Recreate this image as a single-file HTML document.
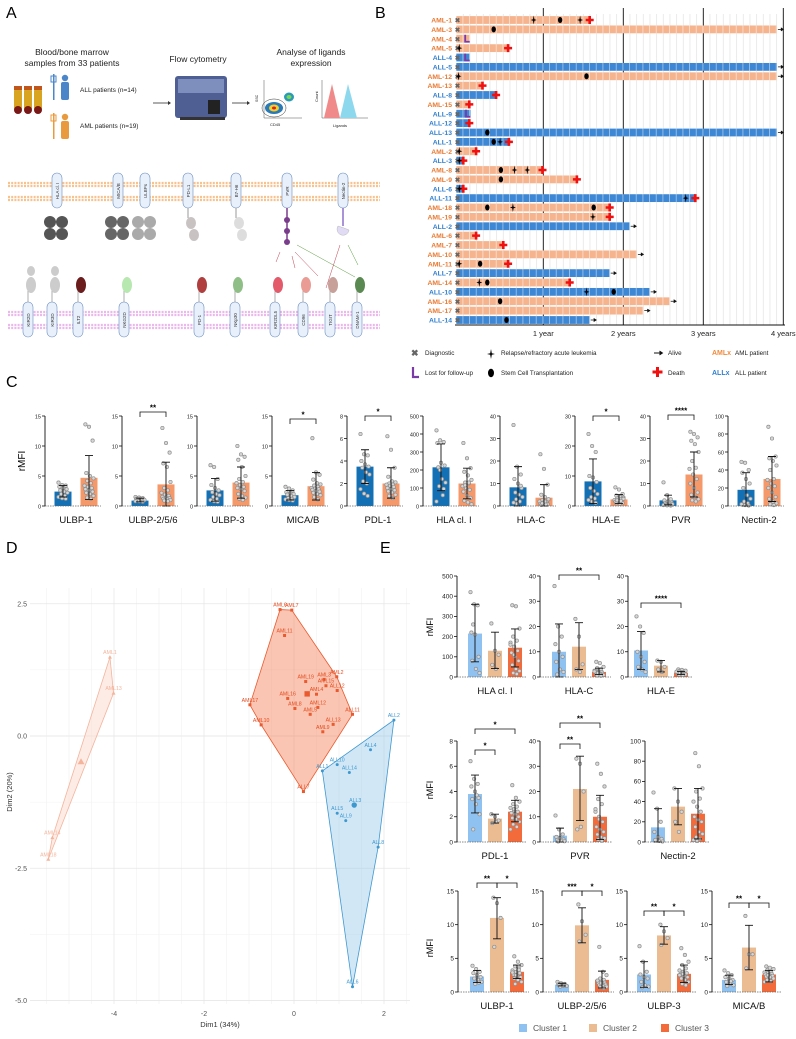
<!DOCTYPE html>
<html><head><meta charset="utf-8">
<style>
html,body{margin:0;padding:0;background:#fff;}
svg{display:block;font-family:"Liberation Sans",sans-serif;}
</style></head>
<body>
<svg id="fig" width="796" height="1039" viewBox="0 0 796 1039" xmlns="http://www.w3.org/2000/svg">
<defs>
<pattern id="patO" patternUnits="userSpaceOnUse" width="6.667" height="10" x="463.3"><rect width="6.667" height="10" fill="#f5b48e"/><rect x="5.9" width="0.8" height="10" fill="#fbe3d6"/></pattern>
<pattern id="patB" patternUnits="userSpaceOnUse" width="6.667" height="10" x="463.3"><rect width="6.667" height="10" fill="#3d87d4"/><rect x="5.9" width="0.8" height="10" fill="#a9cbed"/></pattern>
</defs>
<!-- Panel letters -->
<text x="6" y="18" font-size="16">A</text>
<text x="375" y="18" font-size="16">B</text>
<text x="6" y="387" font-size="16">C</text>
<text x="6" y="553" font-size="16">D</text>
<text x="380" y="553" font-size="16">E</text>

<!-- Panel A -->
<g id="panelA" font-size="8.5" fill="#222">
  <text x="72" y="55" text-anchor="middle">Blood/bone marrow</text>
  <text x="72" y="66" text-anchor="middle">samples from 33 patients</text>
  <text x="198" y="62" text-anchor="middle">Flow cytometry</text>
  <text x="311" y="55" text-anchor="middle">Analyse of ligands</text>
  <text x="311" y="66" text-anchor="middle">expression</text>
  <g>
    <rect x="14" y="88" width="8" height="23" rx="3" fill="#d9a520"/><rect x="14" y="86" width="8" height="4" fill="#c0561b"/><circle cx="18" cy="110" r="4" fill="#7a1818"/>
    <rect x="24" y="88" width="8" height="23" rx="3" fill="#d9a520"/><rect x="24" y="86" width="8" height="4" fill="#c0561b"/><circle cx="28" cy="110" r="4" fill="#7a1818"/>
    <rect x="34" y="88" width="8" height="23" rx="3" fill="#d9a520"/><rect x="34" y="86" width="8" height="4" fill="#c0561b"/><circle cx="38" cy="110" r="4" fill="#7a1818"/>
  </g>
  <g fill="#4a86c8">
    <rect x="53" y="74" width="1.5" height="26"/><rect x="51" y="76" width="5" height="6" fill="none" stroke="#4a86c8"/><circle cx="65" cy="78" r="3.2"/><rect x="61" y="82" width="8" height="18" rx="2"/>
  </g>
  <text x="80" y="92" font-size="6.5">ALL patients (n=14)</text>
  <g fill="#e89a3c">
    <rect x="53" y="113" width="1.5" height="26"/><rect x="51" y="115" width="5" height="6" fill="none" stroke="#e89a3c"/><circle cx="65" cy="117" r="3.2"/><rect x="61" y="121" width="8" height="18" rx="2"/>
  </g>
  <text x="80" y="128" font-size="6.5">AML patients (n=19)</text>
  <line x1="153" y1="103" x2="168" y2="103" stroke="#333" stroke-width="0.8"/><path d="M168,101 L171,103 L168,105Z" fill="#333"/>
  <g>
    <rect x="175" y="76" width="52" height="42" rx="3" fill="#4f5f93"/><rect x="178" y="79" width="46" height="14" fill="#7f8fbd"/><rect x="208" y="100" width="12" height="14" fill="#222"/><rect x="180" y="117" width="45" height="3" fill="#333"/>
  </g>
  <line x1="232" y1="103" x2="247" y2="103" stroke="#333" stroke-width="0.8"/><path d="M247,101 L250,103 L247,105Z" fill="#333"/>
  <g>
    <path d="M264,80 V118 H302" fill="none" stroke="#555" stroke-width="0.5"/>
    <ellipse cx="274" cy="108" rx="9" ry="6" fill="#2a7ab8"/><ellipse cx="274" cy="108" rx="5" ry="3.5" fill="#f2d02a"/><ellipse cx="274" cy="108" rx="2" ry="1.5" fill="#e02020"/>
    <ellipse cx="289" cy="97" rx="5" ry="4.5" fill="#2a9ab8"/><ellipse cx="289" cy="97" rx="2.5" ry="2" fill="#7cd84a"/>
    <ellipse cx="274" cy="108" rx="12" ry="9" fill="none" stroke="#333" stroke-width="0.5"/>
    <text x="258" y="102" font-size="3.5" transform="rotate(-90 258 102)">SSC</text><text x="270" y="126" font-size="4">CD45</text>
  </g>
  <g>
    <path d="M322,80 V118 H368" fill="none" stroke="#555" stroke-width="0.5"/>
    <path d="M324,118 L332,84 L340,118Z" fill="#f08a8a"/><path d="M340,118 L348,84 L357,118Z" fill="#8ed8ee"/>
    <text x="318" y="102" font-size="4" transform="rotate(-90 318 102)">Count</text><text x="333" y="127" font-size="4">Ligands</text>
  </g>
  <g id="membranes"></g>
</g>

<!-- Panel B -->
<g id="panelB"></g>
<!-- Panel C -->
<g id="panelC"></g>
<!-- Panel D -->
<g id="panelD"></g>
<!-- Panel E -->
<g id="panelE"></g>
</svg>
<script>
const NS="http://www.w3.org/2000/svg";
function mk(tag,attrs,parent,txt){const e=document.createElementNS(NS,tag);for(const k in attrs)e.setAttribute(k,attrs[k]);if(txt!==undefined)e.textContent=txt;parent.appendChild(e);return e;}

/* ===== Panel A membranes (schematic) ===== */
const mem=document.getElementById('membranes');
[183,186,197,200].forEach(y=>{mk('line',{x1:8,y1:y,x2:380,y2:y,stroke:'#f7c28e','stroke-width':2.2,'stroke-dasharray':'2 1.2'},mem);});
[312,315,325,328].forEach(y=>{mk('line',{x1:8,y1:y,x2:380,y2:y,stroke:'#eab8ea','stroke-width':2.2,'stroke-dasharray':'2 1.2'},mem);});
const topLig=['HLA cl. I','MICA/B','ULBPs','PD-L1','B7-H6','PVR','Nectin-2'];
const topX=[57,118,145,188,236,287,343];
topLig.forEach((t,i)=>{const g=mk('g',{},mem);


mk('rect',{x:topX[i]-5,y:173,width:10,height:35,rx:5,fill:'#e8f0fb',stroke:'#6d8fc0','stroke-width':0.6},g);
mk('text',{x:topX[i]+2,y:191,'font-size':4.5,'text-anchor':'middle',transform:`rotate(-90 ${topX[i]+2} 191)`,fill:'#333'},g,t);});
// ligand domains
[[57,'#555'],[118,'#666'],[145,'#aaa']].forEach(([x,c])=>{mk('circle',{cx:x-7,cy:222,r:6,fill:c},mem);mk('circle',{cx:x+5,cy:222,r:6,fill:c},mem);mk('circle',{cx:x-7,cy:234,r:6,fill:c},mem);mk('circle',{cx:x+5,cy:234,r:6,fill:c},mem);});
[[188,'#c9c2c2'],[236,'#ddd']].forEach(([x,c])=>{mk('line',{x1:x,y1:208,x2:x,y2:218,stroke:'#999'},mem);mk('ellipse',{cx:x+3,cy:223,rx:5,ry:6,fill:c},mem);mk('ellipse',{cx:x+6,cy:235,rx:5,ry:6,fill:c},mem);});
mk('line',{x1:287,y1:208,x2:287,y2:242,stroke:'#7a3d8c','stroke-width':1.5},mem);
[220,231,242].forEach(y=>mk('circle',{cx:287,cy:y,r:3,fill:'#7a3d8c'},mem));
mk('line',{x1:343,y1:208,x2:343,y2:226,stroke:'#8a70c8','stroke-width':1.5},mem);
mk('path',{d:'M338,226 a6,6 0 1 0 11,4 l-5,-2 z',fill:'#e2dbf5',stroke:'#aaa','stroke-width':0.4},mem);
const botR=['KIR2D','KIR3D','ILT2','NKG2D','PD-1','NKp30','KIR2DL5','CD96','TIGIT','DNAM-1'];
const botX=[28,52,78,124,199,235,275,303,330,357];
const botC=['#ccc','#ccc','#6b1c1c','#b7e8b0','#b13e3e','#8fbf86','#e35a6a','#ea9c94','#c7a09a','#5a8a52'];
botR.forEach((t,i)=>{const g=mk('g',{},mem);


const x=botX[i];
mk('line',{x1:x,y1:285,x2:x,y2:302,stroke:'#999','stroke-width':0.8},g);
mk('ellipse',{cx:x+3,cy:285,rx:5,ry:8,fill:botC[i]},g);
if(i<2){mk('ellipse',{cx:x+3,cy:271,rx:4,ry:5,fill:botC[i]},g);}
mk('rect',{x:x-5,y:302,width:10,height:35,rx:5,fill:'#e8f0fb',stroke:'#6d8fc0','stroke-width':0.6},g);
mk('text',{x:x+2,y:320,'font-size':4.5,'text-anchor':'middle',transform:`rotate(-90 ${x+2} 320)`,fill:'#333'},g,t);});
[[280,252,276,262,'#c04050'],[292,256,295,268,'#c04050'],[295,252,318,276,'#c04050'],[297,245,355,277,'#5a9a40'],[340,245,326,288,'#c04050'],[348,245,358,265,'#5a9a40']].forEach(a=>mk('line',{x1:a[0],y1:a[1],x2:a[2],y2:a[3],stroke:a[4],'stroke-width':0.5},mem));

/* ===== Panel B swimmer plot ===== */
const patients=['AML-1','AML-3','AML-4','AML-5','ALL-4','ALL-5','AML-12','AML-13','ALL-8','AML-15','ALL-9','ALL-12','ALL-13','ALL-1','AML-2','ALL-3','AML-8','AML-9','ALL-6','ALL-11','AML-18','AML-19','ALL-2','AML-6','AML-7','AML-10','AML-11','ALL-7','AML-14','ALL-10','AML-16','AML-17','ALL-14'];
const followYears=[1.58,3.92,0.08,0.56,0.08,3.92,3.92,0.24,0.41,0.075,0.09,0.075,3.92,0.57,0.16,0.0,0.99,1.42,0.0,2.9,1.83,1.83,2.08,0.16,0.5,2.17,0.56,1.83,1.33,2.33,2.58,2.25,1.58];
const outcome=['death','alive','lost','death','lost','alive','alive','death','death','death','lost','death','alive','death','death','death','death','death','death','death','death','death','alive','death','death','alive','death','alive','death','alive','alive','alive','alive'];
const relapseYears=[[0.88,1.46],[],[],[-0.05],[],[],[-0.06],[],[],[],[],[],[],[0.46],[-0.05],[-0.05],[0.64,0.8],[],[-0.05],[2.78],[0.62],[1.62],[],[],[],[],[-0.05],[],[0.2],[1.54],[],[],[]];
const sctYears=[[1.21],[0.38],[],[],[],[],[1.54],[],[],[],[],[],[0.3],[0.38],[],[],[0.47],[0.47],[],[],[0.3,1.63],[],[],[],[],[],[0.21],[],[0.3],[1.88],[0.46],[],[0.54]];
const yearTicks=[1,2,3,4];
const yearTickLabels=['1 year','2 years','3 years','4 years'];
(function(){
const P=document.getElementById('panelB');
const bx=v=>463.3+80*v;
const by=i=>20+i*9.375;
for(let m=0;m<=48;m++){const l=mk('line',{x1:bx(m/12),y1:14,x2:bx(m/12),y2:325,stroke:'#e6e6e6','stroke-width':0.8},P);

}
yearTicks.forEach((t,i)=>{const l=mk('line',{x1:bx(t),y1:8,x2:bx(t),y2:325,stroke:'#111','stroke-width':0.9},P);


const tx=mk('text',{x:bx(t),y:336,'font-size':7.5,'text-anchor':'middle',fill:'#222'},P,yearTickLabels[i]);

});
const ax=mk('line',{x1:455,y1:325,x2:785,y2:325,stroke:'#111','stroke-width':0.9},P);


patients.forEach((p,i)=>{const isAML=p.startsWith('AML');const y=by(i);
const lab=mk('text',{x:452,y:y+2.6,'font-size':6.8,'font-weight':'bold','text-anchor':'end',fill:isAML?'#e97a32':'#2e7fd0'},P,p);


const w=Math.max(bx(followYears[i])-456,6);
const r=mk('rect',{x:456,y:y-3.9,width:w,height:7.8,fill:isAML?'url(#patO)':'url(#patB)'},P);


const d=mk('text',{x:457.5,y:y+2.5,'font-size':6.5,'text-anchor':'middle',fill:'#666','font-weight':'bold'},P,'✖');


const ex=bx(followYears[i]);
if(outcome[i]==='death'){const c=mk('path',{d:`M${ex-1.3},${y-4} h2.6 v2.7 h2.7 v2.6 h-2.7 v2.7 h-2.6 v-2.7 h-2.7 v-2.6 h2.7z`,fill:'#f01010'},P);

}
else if(outcome[i]==='alive'){const a=mk('path',{d:`M${ex+1},${y} h5 M${ex+4},${y-1.6} L${ex+6.5},${y} L${ex+4},${y+1.6}`,stroke:'#111','stroke-width':0.8,fill:'#111'},P);

}
else {const L=mk('path',{d:`M${ex-4.5},${y-4} v7 h4.5`,stroke:'#7a3aa8','stroke-width':1.8,fill:'none'},P);

}
sctYears[i].forEach(v=>{const e=mk('ellipse',{cx:bx(v),cy:y,rx:2.2,ry:3,fill:'#000'},P);

});
relapseYears[i].forEach(v=>{const x=bx(v);const s=mk('path',{d:`M${x},${y-4.5} L${x+0.7},${y-0.7} L${x+3},${y} L${x+0.7},${y+0.7} L${x},${y+4.5} L${x-0.7},${y+0.7} L${x-3},${y} L${x-0.7},${y-0.7}Z`,fill:'#000'},P);

});
});
// legend
const L=mk('g',{'font-size':6.3,fill:'#222'},P);


mk('text',{x:411,y:356,'font-size':9,fill:'#666','font-weight':'bold'},L,'✖');mk('text',{x:425,y:355},L,'Diagnostic');
mk('path',{d:'M491,349 L491.8,353.2 L495,354 L491.8,354.8 L491,359 L490.2,354.8 L487,354 L490.2,353.2Z',fill:'#000'},L);mk('text',{x:501,y:355},L,'Relapse/refractory acute leukemia');
mk('path',{d:'M654,353 h8 M659.5,351 L662.5,353 L659.5,355',stroke:'#111','stroke-width':0.9,fill:'#111'},L);mk('text',{x:668,y:355},L,'Alive');
mk('text',{x:712,y:355,fill:'#f08a3c','font-weight':'bold','font-size':7},L,'AMLx');mk('text',{x:735,y:355},L,'AML patient');
mk('path',{d:'M413,367 v10 h6',stroke:'#7a3aa8','stroke-width':2.2,fill:'none'},L);mk('text',{x:425,y:375},L,'Lost for follow-up');
mk('ellipse',{cx:491,cy:373,rx:3,ry:4.2,fill:'#000'},L);mk('text',{x:501,y:375},L,'Stem Cell Transplantation');
mk('path',{d:'M656,367 h3 v3.5 h3.5 v3 h-3.5 v3.5 h-3 v-3.5 h-3.5 v-3 h3.5z',fill:'#f01010'},L);mk('text',{x:668,y:375},L,'Death');
mk('text',{x:712,y:375,fill:'#2e7fd0','font-weight':'bold','font-size':7},L,'ALLx');mk('text',{x:735,y:375},L,'ALL patient');
})();

/* ===== Generic bar-chart panel ===== */
function jit(i){return ((i*37)%11-5)*0.9;}
function barChart(P,name,ax,yTop,y0,ymax,step,bars,xlabel,sigs,tickFs){
const g=mk('g',{},P);


const sy=v=>y0-(v/ymax)*(y0-yTop);
const right=bars[bars.length-1].cx+12;
bars.forEach((b,bi)=>{
const r=mk('rect',{x:b.cx-b.w/2,y:sy(b.mean),width:b.w,height:y0-sy(b.mean),fill:b.color},g);


b.pts.forEach((v,i)=>{const c=mk('circle',{cx:b.cx+jit(i+bi*3),cy:sy(v),r:1.7,fill:'#d6d6d6',stroke:'#8e8e8e','stroke-width':0.7},g);

});
const e=mk('path',{d:`M${b.cx},${sy(b.lo)} V${sy(b.hi)} M${b.cx-4},${sy(b.hi)} h8 M${b.cx-4},${sy(b.lo)} h8`,stroke:'#111','stroke-width':0.9,fill:'none'},g);

});
mk('line',{x1:ax,y1:y0,x2:right,y2:y0,stroke:'#666','stroke-width':0.8,'stroke-dasharray':'1.5 1'},g);
const yl=mk('line',{x1:ax,y1:yTop,x2:ax,y2:y0,stroke:'#111','stroke-width':0.9},g);


for(let v=0;v<=ymax+1e-9;v+=step){mk('line',{x1:ax-3,y1:sy(v),x2:ax,y2:sy(v),stroke:'#111','stroke-width':0.8},g);
const t=mk('text',{x:ax-4,y:sy(v)+2.3,'font-size':tickFs,'text-anchor':'end',fill:'#222'},g,String(v));

}
const xl=mk('text',{x:(bars[0].cx+bars[bars.length-1].cx)/2,y:y0+17,'font-size':9.5,'text-anchor':'middle',fill:'#111'},g,xlabel);


sigs.forEach(s=>{const a=bars[s.a].cx,b=bars[s.b].cx;
const br=mk('path',{d:`M${a},${s.y+5} V${s.y} H${b} V${s.y+5}`,stroke:'#111','stroke-width':0.8,fill:'none'},g);


const st=mk('text',{x:(a+b)/2,y:s.y-1.5,'font-size':8,'font-weight':'bold','text-anchor':'middle'},g,s.label);

});
}

/* ===== Panel C data ===== */
const cLabels=['ULBP-1','ULBP-2/5/6','ULBP-3','MICA/B','PDL-1','HLA cl. I','HLA-C','HLA-E','PVR','Nectin-2'];
const cMax=[15,15,15,15,8,500,40,30,40,100];
const cStep=[5,5,5,5,2,100,10,10,10,20];
const cAllMean=[2.4,0.9,2.6,1.8,3.5,215,8.3,8.2,2.5,18];
const cAllLo=[1.5,0.7,0.8,1.0,2.0,85,0,0.8,0.5,0];
const cAllHi=[3.4,1.3,4.6,2.6,5.0,345,17.5,15.7,4.8,37];
const cAmlMean=[4.7,3.6,3.9,3.3,2.0,125,3.7,2.2,14,30];
const cAmlLo=[1.1,0,1.3,1.0,0.7,40,0,0.8,4,5];
const cAmlHi=[8.4,7.3,6.5,5.6,3.4,210,9.5,3.8,24,55];
const cAllPts=[[3.9,3.5,3.4,3.2,3,2.8,2.6,2.4,2.2,2,1.7,1.5,1.3,1.2],[1.5,1.4,1.3,1.2,1.2,1.1,1.1,1,1,0.9,0.9,0.8,0.8,0.7],[6.8,6.5,4.5,3.5,3,2.6,2.3,2,1.8,1.5,1.2,1,0.8,0.7],[3.2,2.9,2.6,2.3,2.1,2,1.9,1.7,1.5,1.3,1.2,1.1,1,0.9],[6.4,4.6,4.5,4,3.7,3.5,3.4,3,2.8,2.2,2,1.5,1.1,0.9],[420,365,355,350,240,225,215,150,130,110,60,25,200,95],[36,17.5,14,12,10,8,6,5,4,3,2,1.5,1,9],[24,20,18,10,9.5,8,6,5,4,3,2.5,2,1.5,1],[10.5,4.8,3,2.5,2,1.5,1.2,1,0.8,0.7,0.5,0.4,0.3,0.2],[49,48,40,37,30,25,20,12,8,5,3,2,1,0.5]];
const cAmlPts=[[13.6,13.2,10.9,5.5,5,4.6,4.2,3.8,3.4,3.2,3,2.8,2.6,2.4,2.2,2,1.7,1.4,1.2],[13,10.5,8.9,7.1,6.5,4,3,2.6,2.2,1.9,1.7,1.5,1.4,1.3,1.2,1.1,1,0.9,0.8],[10,8.6,8.2,7.7,6.5,5,4.5,4,3.8,3.5,3.2,3,2.8,2.5,2,1.7,1.4,1.2,1],[11.3,5.6,5.2,4.4,3.8,3.6,3.4,3.2,3,2.9,2.8,2.7,2.5,2.4,2.2,2,1.8,1.5,1.1],[6.2,5,3.4,2.6,2.2,2.1,2,1.9,1.9,1.8,1.7,1.6,1.5,1.4,1.3,1.2,1,0.9,0.7],[350,265,210,190,170,145,130,125,110,100,90,80,60,45,30,20,10,115,130],[23,16.5,9.5,5,4,3,2.5,2,2,1.5,1.5,1,1,0.8,0.5,2,3,1.2,0.6],[6.2,5.5,4,3.5,3,2.8,2.5,2.2,2,1.8,1.6,1.4,1.2,1,0.9,0.8,2.4,1.9,1.7],[33,32,30.5,29,27.5,24,20,17,16.5,14,12,10,8,6,5,4,3,2.5,2],[88,75,55,53,50,45,40,30,29,25,22,20,15,10,8,5,3,2,1]];
const cSigLabel=['','**','','*','*','','','*','****',''];
(function(){
const P=document.getElementById('panelC');
const axX=[45,122,197,272,347,423,500,575,650,728];
const sigY=[0,412,0,419,416,0,0,416,415,0];
cLabels.forEach((lab,i)=>{
const bars=[{key:'all',cx:axX[i]+18,w:17,color:'#1370b5',mean:cAllMean[i],lo:cAllLo[i],hi:cAllHi[i],pts:cAllPts[i]},
{key:'aml',cx:axX[i]+44,w:17,color:'#f5996a',mean:cAmlMean[i],lo:cAmlLo[i],hi:cAmlHi[i],pts:cAmlPts[i]}];
const sigs=cSigLabel[i]?[{a:0,b:1,y:sigY[i],label:cSigLabel[i]}]:[];
barChart(P,'chart-'+lab.toLowerCase().replace(/[^a-z0-9]+/g,'-'),axX[i],416,506,cMax[i],cStep[i],bars,lab,sigs,5.5);});
const yt=mk('text',{x:25,y:461,'font-size':10,'text-anchor':'middle',transform:'rotate(-90 25 461)'},P,'rMFI');


})();

/* ===== Panel D data ===== */
const dNames3=['AML6','AML7','AML11','AML19','AML3','AML2','AML15','ALL12','AML4','AML16','AML17','AML8','AML12','AML5','ALL11','AML10','ALL13','AML9','ALL7'];
const dX3=[-0.31,-0.05,-0.21,0.26,0.67,0.95,0.71,0.96,0.5,-0.14,-0.98,0.02,0.53,0.36,1.3,-0.73,0.87,0.64,0.21];
const dY3=[2.39,2.38,1.90,1.03,1.07,1.12,0.95,0.86,0.79,0.71,0.59,0.52,0.54,0.41,0.41,0.21,0.22,0.08,-1.05];
const dNames1=['AML1','AML13','AML14','AML18'];
const dX1=[-4.09,-4.01,-5.37,-5.46];
const dY1=[1.49,0.81,-1.92,-2.33];
const dNames2=['ALL2','ALL4','ALL10','ALL1','ALL14','ALL3','ALL5','ALL9','ALL8','ALL6'];
const dX2=[2.22,1.70,0.96,0.63,1.23,1.36,0.96,1.15,1.87,1.3];
const dY2=[0.30,-0.26,-0.54,-0.66,-0.69,-1.30,-1.46,-1.60,-2.10,-4.74];
const dXTicks=[-4,-2,0,2];
const dYTicks=[2.5,0,-2.5,-5];
(function(){
const P=document.getElementById('panelD');
const sx=v=>294+45*v, sy=v=>736-52.9*v;
for(let v=-5.5;v<=2.5;v+=1){const l=mk('line',{x1:sx(v),y1:588,x2:sx(v),y2:1004,stroke:'#f2f2f2','stroke-width':0.6},P);}
for(let v=-5;v<=2.5;v+=1.25){const l=mk('line',{x1:30,y1:sy(v),x2:410,y2:sy(v),stroke:'#f2f2f2','stroke-width':0.6},P);}
for(let v=-5;v<=2;v+=1){const l=mk('line',{x1:sx(v),y1:588,x2:sx(v),y2:1004,stroke:Number.isInteger(v/2)?'#e6e6e6':'#f2f2f2','stroke-width':0.7},P);

}
dYTicks.forEach(v=>{const l=mk('line',{x1:30,y1:sy(v),x2:410,y2:sy(v),stroke:'#e6e6e6','stroke-width':0.7},P);


const t=mk('text',{x:27,y:sy(v)+2.5,'font-size':7,'text-anchor':'end',fill:'#555'},P,v.toFixed(1));

});
dXTicks.forEach(v=>{const t=mk('text',{x:sx(v),y:1016,'font-size':7,'text-anchor':'middle',fill:'#555'},P,String(v));

});
const xt=mk('text',{x:220,y:1027,'font-size':7.5,'text-anchor':'middle',fill:'#333'},P,'Dim1 (34%)');


const yt=mk('text',{x:12,y:792,'font-size':7.5,'text-anchor':'middle',fill:'#333',transform:'rotate(-90 12 792)'},P,'Dim2 (20%)');


function hull(pts){pts=pts.slice().sort((a,b)=>a[0]-b[0]||a[1]-b[1]);const cr=(o,a,b)=>(a[0]-o[0])*(b[1]-o[1])-(a[1]-o[1])*(b[0]-o[0]);const lo=[],up=[];for(const p of pts){while(lo.length>=2&&cr(lo[lo.length-2],lo[lo.length-1],p)<=0)lo.pop();lo.push(p);}for(const p of pts.slice().reverse()){while(up.length>=2&&cr(up[up.length-2],up[up.length-1],p)<=0)up.pop();up.push(p);}return lo.slice(0,-1).concat(up.slice(0,-1));}
function cluster(name,names,xs,ys,stroke,fill,op,shape,txtCol){
const pts=xs.map((x,i)=>[sx(x),sy(ys[i])]);
const h=hull(pts);
const poly=mk('polygon',{points:h.map(p=>p.join(',')).join(' '),fill:fill,'fill-opacity':op,stroke:stroke,'stroke-width':0.8},P);


pts.forEach((p,i)=>{let m;
if(shape==='tri')m=mk('path',{d:`M${p[0]},${p[1]-2} L${p[0]+2},${p[1]+1.5} L${p[0]-2},${p[1]+1.5}Z`,fill:stroke},P);
else if(shape==='sq')m=mk('rect',{x:p[0]-1.5,y:p[1]-1.5,width:3,height:3,fill:stroke},P);
else m=mk('circle',{cx:p[0],cy:p[1],r:1.5,fill:stroke},P);


const t=mk('text',{x:p[0],y:p[1]-3,'font-size':5.2,'text-anchor':'middle',fill:txtCol},P,names[i]);

});
const cx=xs.reduce((a,b)=>a+b,0)/xs.length, cy=ys.reduce((a,b)=>a+b,0)/ys.length;
const c=[sx(cx),sy(cy)];let m;
if(shape==='tri')m=mk('path',{d:`M${c[0]},${c[1]-3.5} L${c[0]+3.5},${c[1]+2.5} L${c[0]-3.5},${c[1]+2.5}Z`,fill:stroke},P);
else if(shape==='sq')m=mk('rect',{x:c[0]-2.7,y:c[1]-2.7,width:5.4,height:5.4,fill:stroke},P);
else m=mk('circle',{cx:c[0],cy:c[1],r:2.7,fill:stroke},P);

}
cluster('cluster-1',dNames1,dX1,dY1,'#f4b49c','#fbd9cb',0.5,'tri','#f4b49c');
cluster('cluster-3',dNames3,dX3,dY3,'#ea5a2e','#f57f55',0.45,'sq','#e64a1e');
cluster('cluster-2',dNames2,dX2,dY2,'#3e98d0','#8cc3e8',0.4,'dot','#3e98d0');
})();

/* ===== Panel E data ===== */
const eLabels=['HLA cl. I','HLA-C','HLA-E','PDL-1','PVR','Nectin-2','ULBP-1','ULBP-2/5/6','ULBP-3','MICA/B'];
const eMax=[500,40,40,8,40,100,15,15,15,15];
const eStep=[100,10,10,2,10,20,5,5,5,5];
const eMean1=[215,10,10.5,3.8,2.5,14.5,2.3,1.1,2.6,1.8];
const eLo1=[75,0,3,2.3,0,0,1.4,0.9,0.7,1.1];
const eHi1=[360,21,18,5.3,5.5,33,3.2,1.3,4.5,2.5];
const eMean2=[130,12,4.5,1.85,21,35,11,9.9,8.4,6.6];
const eLo2=[42,3,2,1.5,8.5,17,7.9,7.3,7.1,3.3];
const eHi2=[222,21.5,6.5,2.2,34,53,14,12.5,9.7,9.9];
const eMean3=[145,2,1.7,2.4,10,28,3.0,1.8,2.7,2.6];
const eLo3=[50,1,1,1.6,1,3,2,0.6,1.4,1.5];
const eHi3=[238,3.5,2.2,3.3,18.5,53,4,3.1,4,3.2];
const ePts1=[[420,360,355,220,210,100,80,40,20,260],[36,20,16,13,10,8,6,3,2,1],[24,20,17.5,10,8,6,4,3,2],[6.4,5,4.6,4.4,4,3.5,3.4,3,2.2,1,3.7],[10.5,5,3,2,1.5,1,0.8,0.5,0.3,0.2],[49,33,20,10,5,3,2,1,0.5],[3.9,3.4,3,2.8,2.5,2.2,2,1.8,1.5,1.2,1.4],[1.5,1.3,1.2,1.1,1.1,1,1,0.9,0.9,0.8],[6.8,4.5,3,2.6,2.2,2,1.5,1,0.8,0.7],[3.2,2.8,2.5,2.2,2,1.8,1.5,1.2,1,0.9,1.6]];
const ePts2=[[265,130,110,60,40],[23,16,5,3,2],[6.5,6,4,3,2],[2.2,2,1.7,1.5,1.6],[33,31,20,5,6],[53,40,30,20,10],[14,13.2,11,6.7],[13,10.5,8.5,7.5],[10,9,8,7],[11.3,5.6,5.6,3.5]];
const ePts3=[[355,350,240,200,180,170,150,130,120,100,80,60,40,30,20,15,160,110],[6,5.5,4,3.5,3,2.5,2,2,1.8,1.5,1.3,1,1,0.8,0.6,0.5,2.2,1.6],[3,2.8,2.5,2.3,2,1.9,1.8,1.6,1.5,1.4,1.3,1.2,1.1,1,0.9,0.8,2.1,1.7],[4.5,3.5,3.2,3,2.8,2.7,2.5,2.4,2.3,2.2,2,1.9,1.8,1.6,1.4,1.2,1,2.6],[31,27,22,17,15,12,10,8,6,5,4,3,2,1.5,1,0.5,13,9],[88,75,53,50,43,40,35,30,25,22,20,15,10,8,5,3,2,1],[5.3,4.5,4,3.8,3.5,3.2,3,2.8,2.6,2.4,2.2,2,1.8,1.5,1.2,3.3,2.9,2.5],[6.7,3,2.5,2,1.8,1.6,1.5,1.4,1.3,1.2,1.1,1,0.9,0.8,0.7,0.6,1.7,1.3],[6.5,5.5,4.5,4,3.5,3.2,3,2.8,2.6,2.4,2.2,2,1.8,1.5,1.2,1,2.5,2.7],[3.8,3.6,3.4,3.2,3,2.9,2.8,2.7,2.6,2.5,2.4,2.3,2.2,2,1.8,1.6,1.5,2.5]];
const eSigs=[[],[{a:0,b:2,y:575,label:'**'}],[{a:0,b:2,y:603,label:'****'}],[{a:0,b:1,y:750,label:'*'},{a:0,b:2,y:729,label:'*'}],[{a:0,b:1,y:744,label:'**'},{a:0,b:2,y:723,label:'**'}],[],[{a:0,b:1,y:883,label:'**'},{a:1,b:2,y:883,label:'*'}],[{a:0,b:1,y:891,label:'***'},{a:1,b:2,y:891,label:'*'}],[{a:0,b:1,y:911,label:'**'},{a:1,b:2,y:911,label:'*'}],[{a:0,b:1,y:903,label:'**'},{a:1,b:2,y:903,label:'*'}]];
(function(){
const P=document.getElementById('panelE');
const axX=[457,540,628,457,540,645,458,543,627,712];
const b1X=[475,559,641,475,560,658,477,562,644,729];
const top=[576,576,576,741,741,741,891,891,891,891];
const zero=[677,677,677,842,842,842,992,992,992,992];
eLabels.forEach((lab,i)=>{
const bars=[{key:'cluster1',cx:b1X[i],w:14,color:'#8fc2f0',mean:eMean1[i],lo:eLo1[i],hi:eHi1[i],pts:ePts1[i]},
{key:'cluster2',cx:b1X[i]+20,w:14,color:'#ebbb92',mean:eMean2[i],lo:eLo2[i],hi:eHi2[i],pts:ePts2[i]},
{key:'cluster3',cx:b1X[i]+40,w:14,color:'#f36b3b',mean:eMean3[i],lo:eLo3[i],hi:eHi3[i],pts:ePts3[i]}];
barChart(P,'cluster-chart-'+lab.toLowerCase().replace(/[^a-z0-9]+/g,'-'),axX[i],top[i],zero[i],eMax[i],eStep[i],bars,lab,eSigs[i],6.5);});
[627,790,948].forEach(y=>{const t=mk('text',{x:433,y:y,'font-size':9,'text-anchor':'middle',transform:`rotate(-90 433 ${y})`},P,'rMFI');

});
const lg=mk('g',{'font-size':8.5,fill:'#555'},P);


[['Cluster 1','#8fc2f0',519],['Cluster 2','#ebbb92',589],['Cluster 3','#f36b3b',661]].forEach(([t,c,x])=>{
const s=mk('rect',{x:x,y:1024,width:8,height:8,fill:c},lg);


const tx=mk('text',{x:x+14,y:1031},lg,t);

});
})();
</script>
</body></html>
